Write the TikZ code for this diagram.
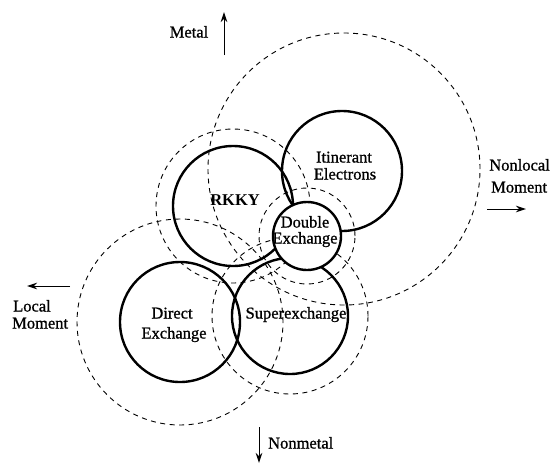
\documentclass[tikz,border=0pt]{standalone}
\usepackage{fontspec}
\setmainfont{Liberation Serif}
\newfontfamily\scanfont{Liberation Serif}[FakeBold=0.9]
\usetikzlibrary{arrows.meta}
\begin{document}
\begin{tikzpicture}[x=1pt,y=-1pt,
  solidc/.style={circle,draw,line width=2.4pt,inner sep=0pt},
  dashc/.style={circle,draw,line width=0.9pt,dash pattern=on 5pt off 4.5pt,inner sep=0pt},
  lab/.style={inner sep=0pt,font=\scanfont\fontsize{16.5}{20}\selectfont,text height=11pt,text depth=0pt},
  axisarrow/.style={line width=1pt,-{Stealth[length=10pt,width=6.5pt]}}]
\useasboundingbox (0,0) rectangle (551,464);
% dashed regions
\node[dashc,minimum size=272pt] (itinD) at (344,169) {};
\node[dashc,minimum size=154pt] (rkkyD) at (233,206) {};
\node[dashc,minimum size=96pt] (doubleD) at (307,236) {};
\node[dashc,minimum size=206pt] (directD) at (180,322) {};
\node[dashc,minimum size=156pt] (superD) at (290,316) {};
% solid circles
\node[solidc,minimum size=120pt] (rkky) at (233,206) {};
\node[solidc,minimum size=120pt] (itin) at (342,171) {};
\node[solidc,minimum size=120pt] (direct) at (180,322) {};
\node[solidc,minimum size=116pt] (super) at (290,316) {};
\node[solidc,minimum size=68pt,fill=white] (double) at (307,236) {};
% labels
\node[lab,font=\fontsize{16.5}{20}\selectfont\bfseries] (lrkky) at (235,200) {RKKY};
\node[lab] (litin1) at (344,157) {Itinerant};
\node[lab] (litin2) at (345,174) {Electrons};
\node[lab] (ldouble1) at (305,222) {Double};
\node[lab] (ldouble2) at (305,238) {Exchange};
\node[lab] (ldirect1) at (172,313) {Direct};
\node[lab] (ldirect2) at (174,333) {Exchange};
\node[lab] (lsuper) at (296,313) {Superexchange};
% axes
\node[lab] (lmetal) at (189,32) {Metal};
\coordinate (metalA) at (224,55);
\coordinate (metalB) at (224,12);
\draw[axisarrow] (metalA) -- (metalB);
\node[lab,anchor=west] (lnonmetal) at (268,443) {Nonmetal};
\coordinate (nonmetalA) at (259,427);
\coordinate (nonmetalB) at (259,463);
\draw[axisarrow] (nonmetalA) -- (nonmetalB);
\node[lab,anchor=east] (lnonlocal1) at (550,165) {Nonlocal};
\node[lab,anchor=west] (lnonlocal2) at (491,187) {Moment};
\coordinate (nonlocalA) at (487,209);
\coordinate (nonlocalB) at (526,209);
\draw[axisarrow] (nonlocalA) -- (nonlocalB);
\node[lab,anchor=west] (llocal1) at (13,306) {Local};
\node[lab,anchor=west] (llocal2) at (12,323) {Moment};
\coordinate (localA) at (70,286);
\coordinate (localB) at (27,286);
\draw[axisarrow] (localA) -- (localB);
\end{tikzpicture}
\end{document}
